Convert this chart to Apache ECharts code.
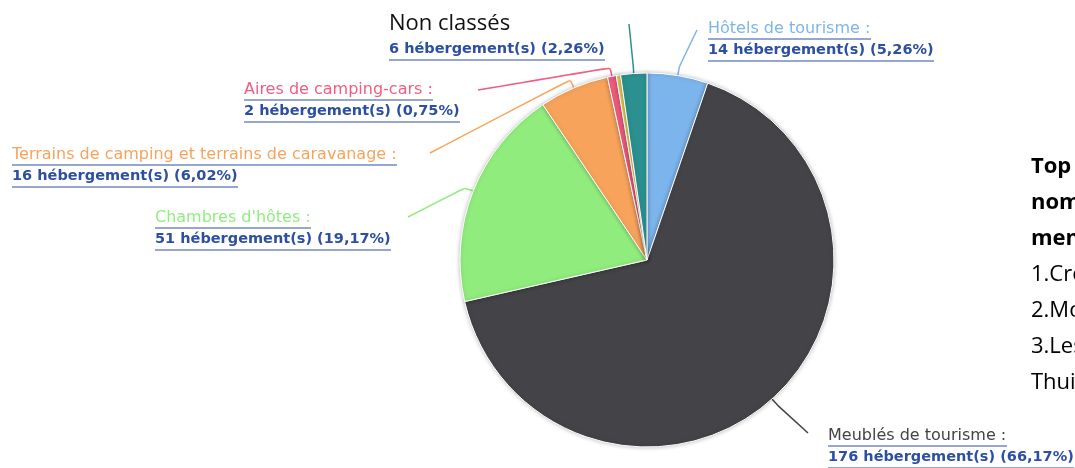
<!DOCTYPE html>
<html>
<head>
<meta charset="utf-8">
<script src="https://cdn.jsdelivr.net/npm/echarts@6/dist/echarts.min.js"></script>
<style>
html, body { margin: 0; padding: 0; background: #fff; }
#chart { width: 1075px; height: 468px; }
</style>
</head>
<body>
<div id="chart"></div>
<script>
// data
var categories = ['Hôtels de tourisme', 'Meublés de tourisme', "Chambres d'hôtes",
    'Terrains de camping et terrains de caravanage', 'Aires de camping-cars', 'Autres', 'Non classés'];
var counts = [14, 176, 51, 16, 2, 1, 6];
var sideNote = ['Top 3 des', 'noms les plus', 'mentionnés :', '1.Crêtes', '2.Mont', '3.Les', 'Thuile'];

// look
var sliceColors = ['#7cb5ec', '#434348', '#90ed7d', '#f7a35c', '#f15c80', '#e4d354', '#2b908f'];
var linkBlue = '#2c4fa3';
// label box top-left, and where the connector ends
var labelPos = [[708, 20], [828, 427], [155, 209], [12, 146], [244, 81], null, [389, 7]];
var lineEnd = [[697, 30], [808, 433], [408, 217], [430, 153], [478, 90], null, [629, 24]];

var total = counts.reduce(function (a, b) { return a + b; }, 0);
var nameFont = '16px "DejaVu Sans"';
var valFont = 'bold 14.5px "DejaVu Sans"';

var ctx = document.createElement('canvas').getContext('2d');
function textW(font, s) {
    ctx.font = font;
    return Math.ceil(ctx.measureText(s).width);
}
function pctText(v) {
    return (v / total * 100).toFixed(2).replace('.', ',') + '%';
}
function valText(i) {
    return counts[i] + ' hébergement(s) (' + pctText(counts[i]) + ')';
}

var rich = {};
categories.forEach(function (name, i) {
    var last = i === categories.length - 1;
    rich['n' + i] = last
        ? { fontFamily: 'Open Sans', fontSize: 22, fontWeight: 500, color: '#111', lineHeight: 33 }
        : { fontFamily: 'DejaVu Sans', fontSize: 16, color: sliceColors[i], lineHeight: 17 };
    rich['a' + i] = {
        width: textW(nameFont, name + ' :'), height: 1, lineHeight: 4,
        fontSize: 1, backgroundColor: linkBlue
    };
    rich['v' + i] = { fontFamily: 'DejaVu Sans', fontSize: 14.5, fontWeight: 'bold', color: linkBlue, lineHeight: 18 };
    rich['b' + i] = {
        width: textW(valFont, valText(i)), height: 1, lineHeight: 4,
        fontSize: 1, backgroundColor: linkBlue
    };
});

var seriesData = categories.map(function (name, i) {
    var item = { name: name, value: counts[i], itemStyle: { color: sliceColors[i] } };
    if (!labelPos[i]) {
        item.label = { show: false };
        item.labelLine = { show: false };
    }
    return item;
});

var chart = echarts.init(document.getElementById('chart'), null, { renderer: 'canvas' });

chart.setOption({
    animation: false,
    backgroundColor: '#fff',
    graphic: [{
        type: 'text',
        left: 1031,
        top: 156,
        style: {
            text: '{b|' + sideNote.slice(0, 3).join('}\n{b|') + '}\n{r|' + sideNote.slice(3).join('}\n{r|') + '}',
            rich: {
                b: { fontFamily: 'Open Sans', fontSize: 22, fontWeight: 'bold', color: '#111', lineHeight: 36 },
                r: { fontFamily: 'Open Sans', fontSize: 22, color: '#222', lineHeight: 36 }
            }
        }
    }],
    series: [{
        type: 'pie',
        center: [647, 260],
        radius: 187,
        startAngle: 90,
        clockwise: true,
        avoidLabelOverlap: false,
        data: seriesData,
        itemStyle: {
            borderColor: '#fff',
            borderWidth: 1,
            shadowBlur: 4,
            shadowColor: 'rgba(0,0,0,0.25)'
        },
        emphasis: { disabled: true },
        label: {
            show: true,
            position: 'outside',
            align: 'left',
            formatter: function (p) {
                var i = p.dataIndex;
                var head = i === categories.length - 1
                    ? '{n' + i + '|' + p.name + '}'
                    : '{n' + i + '|' + p.name + ' :}\n{a' + i + '| }';
                return head + '\n{v' + i + '|' + valText(i) + '}\n{b' + i + '| }';
            },
            rich: rich
        },
        labelLine: {
            show: true,
            length: 10,
            length2: 20,
            smooth: 0.2,
            lineStyle: { width: 1.5 }
        },
        labelLayout: function (params) {
            var i = params.dataIndex;
            if (!labelPos[i]) return {};
            var pts = params.labelLinePoints;
            var out = { x: labelPos[i][0], y: labelPos[i][1], align: 'left', verticalAlign: 'top' };
            if (pts) {
                var p0 = pts[0];
                var dx = p0[0] - 647, dy = p0[1] - 260;
                var d = Math.sqrt(dx * dx + dy * dy) || 1;
                out.labelLinePoints = [
                    [p0[0], p0[1]],
                    [p0[0] + dx / d * 9, p0[1] + dy / d * 9],
                    lineEnd[i]
                ];
            }
            return out;
        }
    }]
});
</script>
</body>
</html>
